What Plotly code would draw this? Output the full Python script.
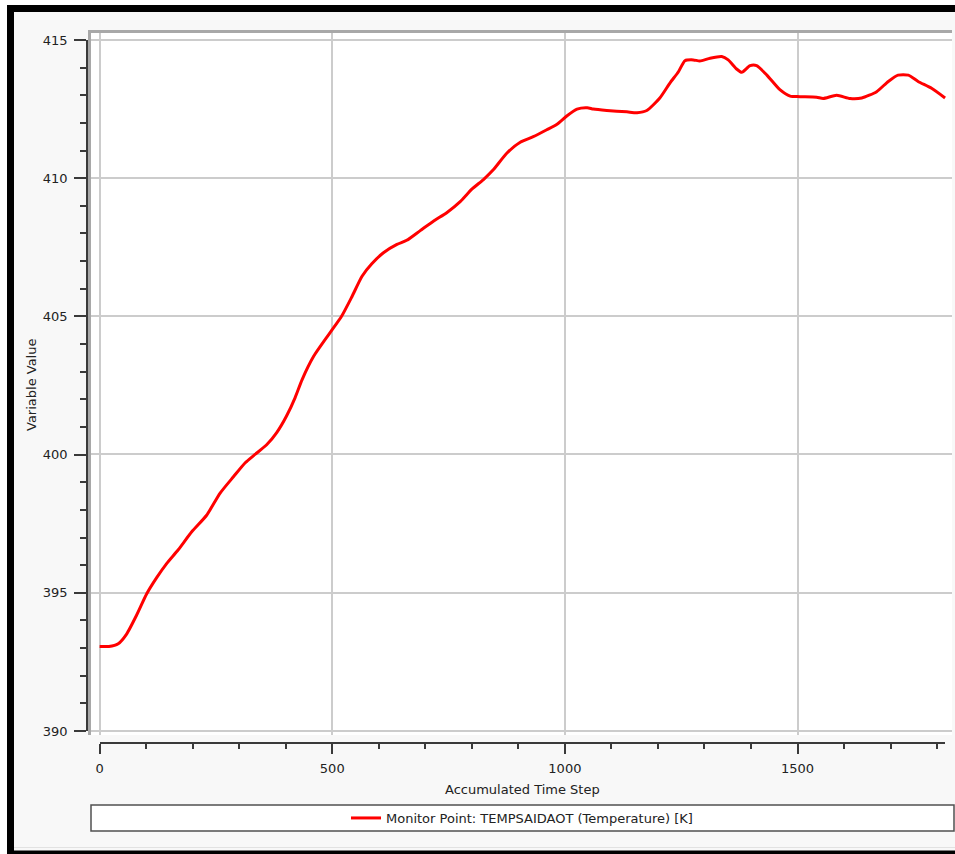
import plotly.graph_objects as go

# ---- data ----
time_step = [0, 20, 40, 58, 80, 101, 123, 144, 169, 198, 230, 259, 288, 313, 334, 359,
             381, 402, 420, 435, 460, 495, 520, 542, 564, 585, 610, 639, 660, 689, 718,
             746, 775, 800, 825, 846, 875, 904, 932, 961, 983, 1004, 1026, 1048, 1061,
             1090, 1133, 1155, 1176, 1204, 1226, 1244, 1258, 1276, 1290, 1312, 1337,
             1351, 1369, 1380, 1398, 1412, 1434, 1462, 1484, 1505, 1541, 1555, 1584,
             1613, 1638, 1670, 1695, 1716, 1738, 1759, 1788, 1817]
temperature = [393.05, 393.05, 393.15, 393.5, 394.2, 394.95, 395.55, 396.05, 396.55,
               397.2, 397.8, 398.6, 399.2, 399.7, 400.0, 400.35, 400.8, 401.4, 402.05,
               402.7, 403.55, 404.4, 405.0, 405.7, 406.45, 406.9, 407.3, 407.6, 407.75,
               408.1, 408.45, 408.75, 409.15, 409.6, 409.95, 410.3, 410.9, 411.3, 411.5,
               411.75, 411.95, 412.25, 412.5, 412.55, 412.5, 412.45, 412.4, 412.37,
               412.45, 412.9, 413.45, 413.85, 414.25, 414.28, 414.24, 414.34, 414.4,
               414.28, 413.95, 413.83, 414.07, 414.07, 413.73, 413.2, 412.97, 412.95,
               412.93, 412.88, 413.0, 412.88, 412.9, 413.13, 413.5, 413.73, 413.73,
               413.5, 413.25, 412.9]
series_name = "Monitor Point: TEMPSAIDAOT (Temperature) [K]"
x_title = "Accumulated Time Step"
y_title = "Variable Value"

W, H = 955, 854
ML, MR, MT, MB = 87, 3, 33, 111
PW, PH = W - ML - MR, H - MT - MB


def px(xp):
    return (xp - ML) / PW


def py(yp):
    return (H - MB - yp) / PH


FONT = "DejaVu Sans"
TXT = "#222222"

fig = go.Figure()
fig.add_trace(go.Scatter(x=time_step, y=temperature, mode="lines", name=series_name,
                         line=dict(color="#ff0000", width=3, shape="spline", smoothing=0.6),
                         xaxis="x", yaxis="y"))
# carrier for the offset tick axes (no points)
fig.add_trace(go.Scatter(x=[None], y=[None], xaxis="x2", yaxis="y2", showlegend=False,
                         hoverinfo="skip"))

shapes = []


def rect(x0, y0, x1, y1, fill, line_color=None, lw=0, layer="above"):
    shapes.append(dict(type="rect", xref="paper", yref="paper",
                       x0=px(x0), x1=px(x1), y0=py(y1), y1=py(y0),
                       fillcolor=fill, line=dict(color=line_color or fill, width=lw),
                       layer=layer))


# white plotting panel (below grid and trace)
rect(91, 33, 952, 735, "white", layer="below")
rect(0, 0, 7, 854, "white")
rect(0, 0, 955, 5, "white")
rect(7, 5, 14, 852, "black")
rect(7, 5, 955, 12, "black")
rect(7, 850.5, 955, 854, "black")
shapes.append(dict(type="line", xref="paper", yref="paper", x0=px(14), x1=px(955),
                   y0=py(847.5), y1=py(847.5), line=dict(color="#e2e2e2", width=1)))
# legend frame
rect(91, 805, 954, 831, "white", "#505050", 1.5)

fig.update_layout(
    width=W, height=H,
    margin=dict(l=ML, r=MR, t=MT, b=MB, pad=0),
    paper_bgcolor="#f8f8f8",
    plot_bgcolor="rgba(0,0,0,0)",
    font=dict(family=FONT, size=13, color=TXT),
    showlegend=True,
    legend=dict(orientation="h", x=px(522), xanchor="center", y=py(818), yanchor="middle",
                bgcolor="rgba(0,0,0,0)", borderwidth=0, font=dict(family=FONT, size=13, color=TXT)),
    shapes=shapes,
    xaxis=dict(domain=[px(91), 1], range=[-18.5, 1831.9], side="top", showline=True,
               linecolor="#a8a8a8", linewidth=3, showgrid=True, gridcolor="#cccccc",
               gridwidth=1.5, tick0=0, dtick=500, ticks="", showticklabels=False,
               zeroline=False, anchor="y"),
    yaxis=dict(domain=[py(735), 1], range=[389.846, 415.253], side="left", showline=True,
               linecolor="#a8a8a8", linewidth=3, showgrid=True, gridcolor="#cccccc",
               gridwidth=1.5, tick0=390, dtick=5, ticks="", showticklabels=False,
               zeroline=False, anchor="x"),
    xaxis2=dict(domain=[px(99.6), px(945)], range=[0, 1816.9], anchor="free", position=0,
                side="bottom", showline=True, linecolor="#3a3a3a", linewidth=1.5,
                showgrid=False, zeroline=False, ticks="outside", ticklen=10, tickwidth=1.5,
                tickcolor="#3a3a3a", tick0=0, dtick=500, ticklabelstandoff=4,
                minor=dict(ticks="outside", ticklen=5, tickwidth=1.5, tickcolor="#3a3a3a",
                           dtick=100, showgrid=False),
                tickfont=dict(family=FONT, size=13, color=TXT)),
    yaxis2=dict(domain=[py(731), py(40)], range=[390, 415], anchor="free", position=0,
                side="left", showline=True, linecolor="#3a3a3a", linewidth=1.5,
                showgrid=False, zeroline=False, ticks="outside", ticklen=12, tickwidth=1.5,
                tickcolor="#3a3a3a", tick0=390, dtick=5, ticklabelstandoff=4,
                minor=dict(ticks="outside", ticklen=6, tickwidth=1.5, tickcolor="#3a3a3a",
                           dtick=1, showgrid=False),
                tickfont=dict(family=FONT, size=13, color=TXT)),
    annotations=[
        dict(text=x_title, xref="paper", yref="paper", x=px(522), y=py(790),
             xanchor="center", yanchor="middle", showarrow=False,
             font=dict(family=FONT, size=13, color=TXT)),
        dict(text=y_title, xref="paper", yref="paper", x=px(31), y=py(385),
             xanchor="center", yanchor="middle", showarrow=False, textangle=-90,
             font=dict(family=FONT, size=13, color=TXT)),
    ],
)

fig.write_html("out.html", config={"displayModeBar": False},
               post_script="document.body.style.margin='0';document.body.style.overflow='hidden';")
